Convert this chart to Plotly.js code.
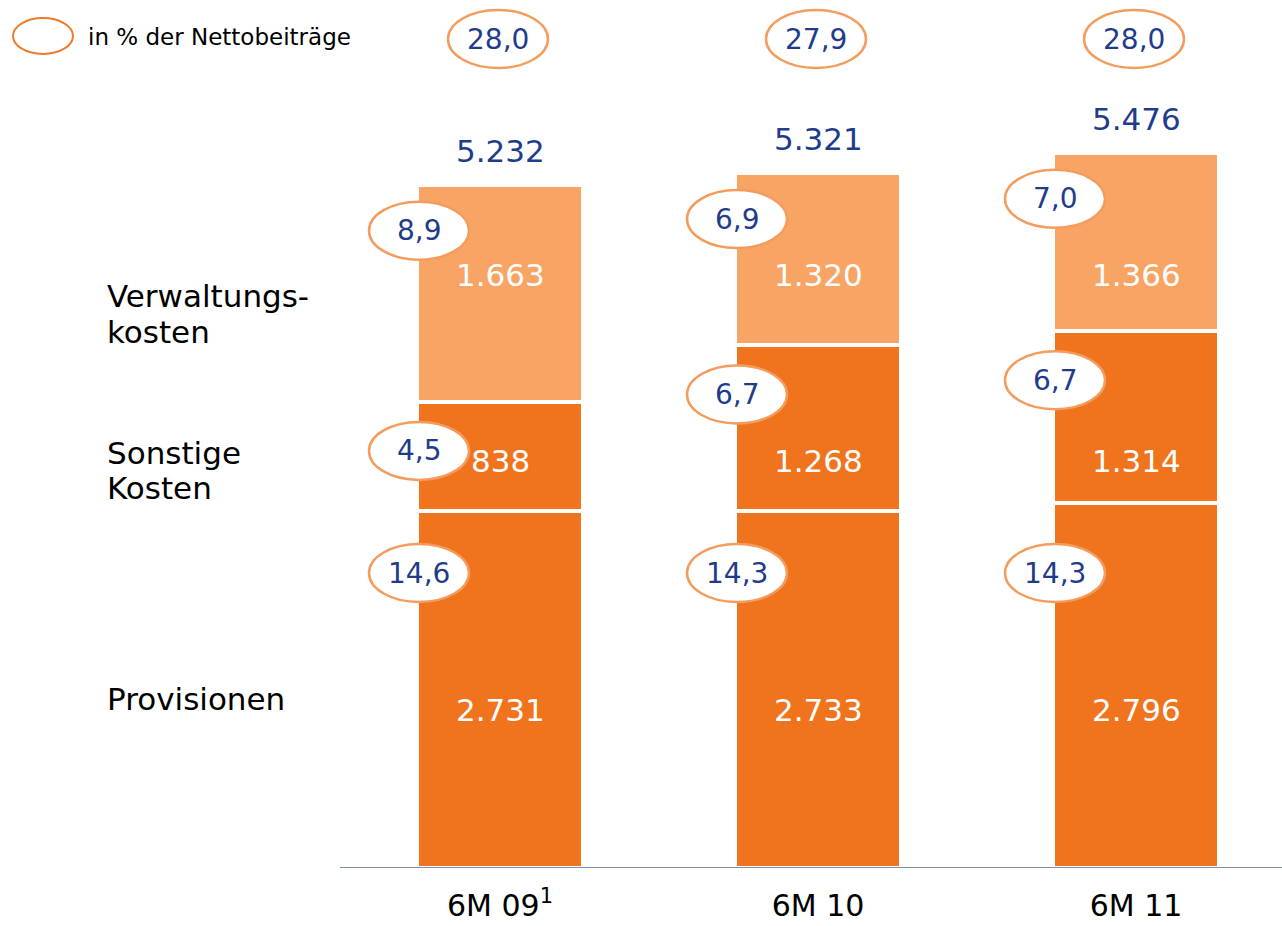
<!DOCTYPE html>
<html>
<head>
<meta charset="utf-8">
<script src="https://cdn.plot.ly/plotly-3.0.1.min.js"></script>
<style>
  html, body { margin: 0; padding: 0; background: #ffffff; }
  #chart { width: 1282px; height: 926px; }
</style>
</head>
<body>
<div id="chart"></div>
<script>
// ---- data ----
const categories = ['6M 09', '6M 10', '6M 11'];
const footnotes = ['1', '', ''];
const provisionen = [2731, 2733, 2796];
const sonstigeKosten = [838, 1268, 1314];
const verwaltungskosten = [1663, 1320, 1366];
const totals = [5232, 5321, 5476];
const pctProvisionen = [14.6, 14.3, 14.3];
const pctSonstige = [4.5, 6.7, 6.7];
const pctVerwaltung = [8.9, 6.9, 7.0];
const pctTotal = [28.0, 27.9, 28.0];
const seriesNames = ['Provisionen', 'Sonstige Kosten', 'Verwaltungskosten'];
const legendText = 'in % der Nettobeiträge';

// ---- styling / geometry ----
const W = 1282, H = 926, BOTTOM = 58;
const PLOT_H = H - BOTTOM;           // 868
const PX_PER_UNIT = 0.1306;
const YMAX = PLOT_H / PX_PER_UNIT;
const CAT_PX = 318;                  // px per category step
const X0_PX = 500;                   // pixel center of first category
const XMIN = -X0_PX / CAT_PX, XMAX = (W - X0_PX) / CAT_PX;
const BAR_VIS_W = 162, LINE_W = 4;
const BLUE = '#1f3c8c';
const DARK = '#f0731d', LIGHT = '#f7a465';
const ELL_LINE = '#f39c5e';
const FONT = 'DejaVu Sans, Liberation Sans, Arial, sans-serif';
const FS = 31;

const fmtInt = v => String(v).replace(/\B(?=(\d{3})+(?!\d))/g, '.');
const fmtPct = v => v.toFixed(1).replace('.', ',');
const pxToData = py => (PLOT_H - py) / PX_PER_UNIT;
const dataToPx = v => PLOT_H - v * PX_PER_UNIT;
const pxToPaperY = py => (PLOT_H - py) / PLOT_H;

const xs = categories.map((c, i) => i);
const ticktext = categories.map((c, i) => footnotes[i] ? c + '<sup>' + footnotes[i] + '</sup>' : c);

function barTrace(name, vals, color) {
  return {
    type: 'bar', name: name, x: xs, y: vals,
    width: (BAR_VIS_W + LINE_W) / CAT_PX,
    marker: { color: color, line: { color: '#ffffff', width: LINE_W } },
    hoverinfo: 'skip', showlegend: false
  };
}
const traces = [
  barTrace(seriesNames[0], provisionen, DARK),
  barTrace(seriesNames[1], sonstigeKosten, DARK),
  barTrace(seriesNames[2], verwaltungskosten, LIGHT)
];

const shapes = [];
const annotations = [];

// axis line
shapes.push({ type: 'line', xref: 'x', yref: 'y', x0: (340 - X0_PX) / CAT_PX, x1: XMAX + 0.1, y0: 0, y1: 0,
  line: { color: '#4f6b96', width: 1.5 }, layer: 'above' });

function ellipse(xref, yref, xa, ya, w, h, lw, col) {
  shapes.push({ type: 'circle', xref: xref, yref: yref, xsizemode: 'pixel', ysizemode: 'pixel',
    xanchor: xa, yanchor: ya, x0: -w / 2, x1: w / 2, y0: -h / 2, y1: h / 2,
    fillcolor: '#ffffff', line: { color: col || ELL_LINE, width: lw || 2.5 }, layer: 'above' });
}
function label(xref, yref, x, y, text, size, color, xanchor) {
  annotations.push({ xref: xref, yref: yref, x: x, y: y, text: text, showarrow: false,
    xanchor: xanchor || 'center', yanchor: 'middle', borderpad: 0,
    font: { family: FONT, size: size, color: color } });
}

// segment value labels at fixed rows (as in original slide)
const valueRowsPx = [710, 461, 275];
const segVals = [provisionen, sonstigeKosten, verwaltungskosten];
const segPcts = [pctProvisionen, pctSonstige, pctVerwaltung];
const ellOffsetPx = [null, 47, 44];
const provEllRowPx = 573;

xs.forEach(i => {
  let cum = 0;
  segVals.forEach((arr, s) => {
    const v = arr[i];
    const topPx = dataToPx(cum + v) + LINE_W / 2;
    cum += v;
    // value in bar
    label('x', 'y', i, pxToData(valueRowsPx[s]), fmtInt(v), FS, '#ffffff');
    // percent ellipse on the left edge
    const ex = i - (BAR_VIS_W / 2) / CAT_PX;
    const ey = pxToData(s === 0 ? provEllRowPx : topPx + ellOffsetPx[s]);
    ellipse('x', 'y', ex, ey, 100, 58);
    label('x', 'y', ex, ey, fmtPct(segPcts[s][i]), 28, BLUE);
  });
  // total above bar
  label('x', 'y', i, totals[i], fmtInt(totals[i]), FS, BLUE);
  annotations[annotations.length - 1].yshift = 34;
  // top ellipse
  const ty = pxToData(39);
  ellipse('x', 'y', i - 2 / CAT_PX, ty, 100, 58);
  label('x', 'y', i - 2 / CAT_PX, ty, fmtPct(pctTotal[i]), 28, BLUE);
});

// left row labels
const leftLines = [['Verwaltungs-', 296], ['kosten', 332], ['Sonstige', 453], ['Kosten', 488], ['Provisionen', 699]];
leftLines.forEach(([t, py]) => label('paper', 'paper', 106 / W, pxToPaperY(py), t, FS, '#000000', 'left'));

// legend
ellipse('paper', 'paper', 43 / W, pxToPaperY(36), 60, 36, 2, '#ef7b2f');
label('paper', 'paper', 87 / W, pxToPaperY(37), legendText, 23, '#000000', 'left');

const layout = {
  width: W, height: H,
  margin: { l: 0, r: 0, t: 0, b: BOTTOM, pad: 0 },
  paper_bgcolor: '#ffffff', plot_bgcolor: '#ffffff',
  barmode: 'stack', bargap: 0,
  showlegend: false,
  font: { family: FONT, color: '#000000' },
  xaxis: { range: [XMIN, XMAX], tickvals: xs, ticktext: ticktext, showgrid: false, zeroline: false,
    showline: false, ticks: '', ticklabelstandoff: 17, tickfont: { family: FONT, size: 30, color: '#000000' },
    fixedrange: true },
  yaxis: { range: [0, YMAX], visible: false, showgrid: false, zeroline: false, fixedrange: true },
  shapes: shapes,
  annotations: annotations
};

Plotly.newPlot('chart', traces, layout, { displayModeBar: false, staticPlot: true });
</script>
</body>
</html>
